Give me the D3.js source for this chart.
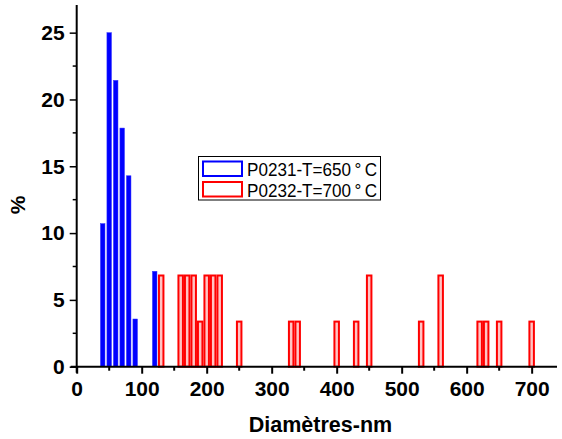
<!DOCTYPE html>
<html><head><meta charset="utf-8">
<script src="https://cdn.jsdelivr.net/npm/d3@7"></script>
<style>body{margin:0;background:#fff}svg{display:block}text{font-family:"Liberation Sans",Arial,sans-serif}</style>
</head><body><svg id="c" width="562" height="439"></svg>
<script>
// Data
const blueDiam = [40, 50, 60, 70, 80, 90, 120];
const bluePct = [10.71, 25.0, 21.43, 17.86, 14.29, 3.57, 7.14];
const redDiam = [130, 160, 170, 180, 190, 200, 210, 220, 250, 330, 340, 400, 430, 450, 530, 560, 620, 630, 650, 700];
const redPct = [6.9, 6.9, 6.9, 6.9, 3.45, 6.9, 6.9, 6.9, 3.45, 3.45, 3.45, 3.45, 3.45, 6.9, 3.45, 6.9, 3.45, 3.45, 3.45, 3.45];
const xTicks = [0, 100, 200, 300, 400, 500, 600, 700];
const yTicks = [0, 5, 10, 15, 20, 25];
const seriesNames = ["P0231-T=650\u2009°\u2009C", "P0232-T=700\u2009°\u2009C"];

const svg = d3.select("#c");
const x = d3.scaleLinear().domain([0, 739]).range([76.7, 557]);
const y = d3.scaleLinear().domain([0, 27.07]).range([366.7, 5]);

// blue bars
svg.append("g").selectAll("rect").data(blueDiam).join("rect")
  .attr("x", d => x(d - 3.5)).attr("width", d => x(d + 3.5) - x(d - 3.5))
  .attr("y", (d, i) => y(bluePct[i])).attr("height", (d, i) => y(0) - y(bluePct[i]))
  .attr("fill", "#0000ff").attr("stroke", "#3333ff").attr("stroke-width", 0.5);

// red bars (hollow)
svg.append("g").selectAll("rect").data(redDiam).join("rect")
  .attr("x", d => x(d - 5) + 1).attr("width", d => x(d + 5) - x(d - 5) - 2)
  .attr("y", (d, i) => y(redPct[i]) + 1).attr("height", (d, i) => y(0) - y(redPct[i]) - 1)
  .attr("fill", "#ffc4c4").attr("stroke", "#ff0000").attr("stroke-width", 2);

// axes
const xMinor = d3.range(50, 739, 100);
const yMinor = d3.range(2.5, 27, 5);
const gx = svg.append("g").attr("transform", `translate(0,${y(0)})`);
gx.call(d3.axisBottom(x).tickValues(xTicks).tickSize(7).tickPadding(7).tickFormat(d3.format("d")));
gx.selectAll(".tick line").attr("stroke-width", 2);
gx.select(".domain").attr("stroke-width", 2).attr("d", `M${x(0)-6},0H${x(739)}`);
gx.selectAll("text").attr("font-size", 21).attr("font-weight", "bold").attr("fill", "#000").attr("font-family", "Liberation Sans, Arial, sans-serif");
gx.selectAll(".minor").data(xMinor).join("line").attr("class", "minor")
  .attr("x1", d => x(d)).attr("x2", d => x(d)).attr("y1", 0).attr("y2", 4).attr("stroke", "#000").attr("stroke-width", 2);

const gy = svg.append("g").attr("transform", `translate(${x(0)},0)`);
gy.call(d3.axisLeft(y).tickValues(yTicks).tickSize(7).tickPadding(5));
gy.selectAll(".tick line").attr("stroke-width", 1.5);
gy.select(".domain").attr("stroke-width", 2).attr("d", `M0,${y(0)+6}V${y(27.07)}`);
gy.selectAll("text").attr("font-size", 21).attr("font-weight", "bold").attr("fill", "#000").attr("font-family", "Liberation Sans, Arial, sans-serif");
gy.selectAll(".minor").data(yMinor).join("line").attr("class", "minor")
  .attr("x1", -4).attr("x2", 0).attr("y1", d => y(d)).attr("y2", d => y(d)).attr("stroke", "#000").attr("stroke-width", 1.5);

// titles
svg.append("text").attr("x", 320.5).attr("y", 432).attr("text-anchor", "middle")
  .attr("font-size", 21.5).attr("font-weight", "bold").text("Diamètres-nm");
svg.append("text").attr("transform", "translate(25,205) rotate(-90)").attr("text-anchor", "middle")
  .attr("font-size", 21).attr("font-weight", "bold").text("%");

// legend
const lg = svg.append("g");
lg.append("rect").attr("x", 198.5).attr("y", 156.5).attr("width", 182).attr("height", 43.5)
  .attr("fill", "#fff").attr("stroke", "#000").attr("stroke-width", 1);
const colors = ["#0000ff", "#ff0000"];
seriesNames.forEach((n, i) => {
  lg.append("rect").attr("x", 203).attr("y", 161.5 + i * 20.5).attr("width", 39).attr("height", 14.5)
    .attr("fill", "#fff").attr("stroke", colors[i]).attr("stroke-width", 2);
  lg.append("text").attr("x", 247).attr("y", 176 + i * 20.5).attr("font-size", 18.5)
    .attr("textLength", 130).attr("lengthAdjust", "spacingAndGlyphs").text(n);
});
</script></body></html>
